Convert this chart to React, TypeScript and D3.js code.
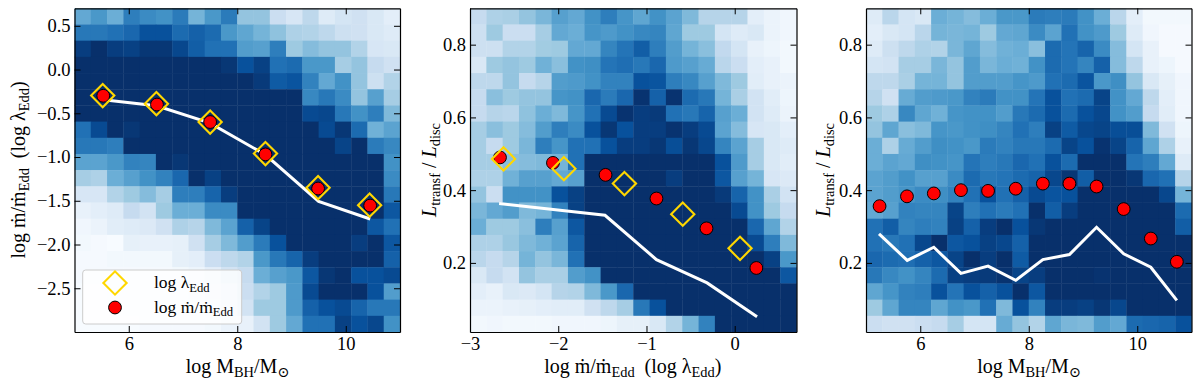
import React, { useEffect, useRef } from "react";
import * as d3 from "d3";

// heatmap cells, top row first, on the 0-8 steps of the Blues colormap
const massAccretionGrid = [
  [4.2, 4.8, 4.0, 5.6, 5.2, 5.0, 5.7, 3.8, 4.8, 5.7, 3.2, 3.2, 1.8, 1.3, 2.2, 1.0, 1.4, 1.6, 1.2, 0.8],
  [5.8, 5.8, 6.0, 6.3, 7.0, 7.0, 6.2, 6.5, 6.2, 4.8, 4.3, 3.8, 3.3, 2.6, 2.5, 2.2, 1.7, 1.6, 1.2, 1.0],
  [7.6, 8.0, 7.6, 7.5, 7.8, 7.8, 7.3, 6.6, 6.0, 6.0, 4.6, 4.5, 5.6, 3.0, 3.5, 3.2, 3.2, 2.5, 1.3, 1.2],
  [8.0, 8.0, 8.0, 8.0, 8.0, 8.0, 8.0, 8.0, 8.0, 7.8, 7.0, 7.5, 6.0, 6.2, 4.8, 4.8, 2.8, 3.2, 2.0, 1.6],
  [8.0, 8.0, 8.0, 8.0, 8.0, 8.0, 8.0, 8.0, 8.0, 8.0, 8.0, 7.7, 6.7, 6.9, 5.5, 4.2, 5.0, 3.2, 1.7, 2.5],
  [8.0, 8.0, 8.0, 8.0, 8.0, 8.0, 8.0, 8.0, 8.0, 8.0, 8.0, 8.0, 8.0, 8.0, 5.3, 5.8, 5.2, 3.2, 4.5, 2.8],
  [8.0, 8.0, 8.0, 8.0, 8.0, 8.0, 8.0, 8.0, 8.0, 8.0, 8.0, 8.0, 8.0, 8.0, 7.2, 7.3, 5.8, 5.0, 5.6, 3.6],
  [6.0, 7.2, 8.0, 7.8, 8.0, 8.0, 8.0, 8.0, 8.0, 8.0, 8.0, 8.0, 8.0, 8.0, 8.0, 7.2, 7.8, 6.2, 3.9, 4.4],
  [5.8, 5.8, 5.6, 8.0, 8.0, 8.0, 8.0, 8.0, 8.0, 8.0, 8.0, 8.0, 8.0, 8.0, 8.0, 8.0, 7.4, 8.0, 5.7, 5.3],
  [4.4, 4.4, 4.8, 5.5, 5.4, 8.0, 7.8, 8.0, 8.0, 8.0, 8.0, 8.0, 8.0, 8.0, 8.0, 8.0, 8.0, 8.0, 8.0, 5.0],
  [2.8, 2.6, 4.0, 4.5, 5.0, 5.5, 6.3, 8.0, 7.5, 8.0, 8.0, 8.0, 8.0, 8.0, 8.0, 8.0, 8.0, 8.0, 8.0, 5.2],
  [1.3, 1.3, 2.5, 3.0, 3.5, 2.8, 5.6, 5.6, 6.4, 7.6, 8.0, 8.0, 8.0, 8.0, 8.0, 8.0, 8.0, 8.0, 8.0, 5.8],
  [0.6, 0.8, 1.0, 2.0, 1.5, 3.0, 4.0, 4.0, 5.2, 5.2, 8.0, 8.0, 8.0, 8.0, 8.0, 8.0, 8.0, 8.0, 8.0, 6.8],
  [0.3, 0.5, 0.9, 1.0, 1.1, 1.6, 2.6, 2.4, 3.6, 4.4, 6.5, 7.4, 8.0, 8.0, 8.0, 8.0, 8.0, 8.0, 6.8, 6.0],
  [0.2, 0.1, 0.0, 0.7, 0.6, 0.6, 0.7, 1.6, 2.8, 3.6, 4.6, 5.7, 7.0, 8.0, 8.0, 8.0, 8.0, 7.6, 8.0, 6.8],
  [0.1, 0.1, 0.2, 0.2, 0.2, 0.2, 0.7, 0.8, 1.8, 2.2, 2.5, 4.8, 5.8, 6.4, 7.6, 8.0, 8.0, 8.0, 8.0, 6.5],
  [0.1, 0.1, 0.1, 0.1, 0.1, 0.1, 0.2, 0.4, 0.8, 1.5, 2.0, 4.0, 4.5, 4.8, 6.8, 7.8, 8.0, 7.0, 7.0, 7.2],
  [0.0, 0.0, 0.1, 0.1, 0.1, 0.1, 0.2, 0.3, 0.6, 1.0, 1.8, 2.5, 3.0, 4.7, 7.2, 8.0, 8.0, 8.0, 7.0, 4.6],
  [0.0, 0.0, 0.0, 0.1, 0.1, 0.1, 0.1, 0.2, 0.4, 0.8, 1.5, 3.0, 3.0, 4.7, 6.5, 7.0, 7.2, 6.4, 5.8, 5.8],
  [0.0, 0.0, 0.0, 0.0, 0.1, 0.1, 0.1, 0.1, 0.2, 0.5, 0.6, 1.5, 3.0, 4.2, 6.0, 6.0, 7.5, 7.0, 7.3, 5.0],
];

const accretionTransferGrid = [
  [2.0, 2.6, 2.7, 3.2, 3.7, 4.5, 4.2, 5.0, 5.6, 4.9, 4.3, 5.0, 4.4, 3.6, 2.4, 2.4, 2.4, 0.8, 0.5, 0.3],
  [1.7, 3.0, 1.8, 1.8, 2.8, 4.2, 4.0, 4.9, 4.7, 5.0, 5.3, 5.4, 4.3, 3.0, 3.0, 1.4, 1.0, 1.2, 0.5, 0.3],
  [1.7, 1.7, 2.5, 2.5, 2.9, 3.0, 4.2, 4.2, 5.4, 5.9, 6.6, 5.6, 4.6, 3.8, 3.4, 2.1, 1.4, 0.6, 0.4, 0.2],
  [1.2, 3.0, 3.2, 3.0, 3.9, 3.4, 5.0, 5.1, 5.9, 6.1, 5.8, 6.3, 4.7, 4.5, 4.1, 2.3, 1.8, 0.8, 0.6, 0.2],
  [2.2, 2.2, 3.2, 2.0, 2.4, 4.6, 4.7, 5.0, 5.5, 5.5, 7.0, 6.9, 5.6, 5.3, 4.5, 3.6, 3.0, 0.9, 0.6, 0.5],
  [2.0, 3.4, 3.0, 3.2, 3.2, 4.9, 5.0, 6.3, 5.7, 6.3, 7.9, 6.5, 7.9, 6.2, 5.8, 3.8, 2.7, 1.5, 0.9, 0.4],
  [2.0, 2.4, 2.3, 3.3, 4.0, 3.6, 4.9, 6.0, 7.2, 7.9, 7.6, 7.7, 6.0, 5.8, 6.4, 4.5, 4.0, 1.5, 1.0, 0.5],
  [2.8, 3.4, 3.0, 3.5, 4.6, 5.6, 5.2, 7.0, 7.8, 7.0, 7.6, 7.6, 7.9, 7.6, 7.2, 4.4, 3.5, 1.3, 1.2, 0.8],
  [2.8, 2.0, 3.0, 3.7, 5.6, 4.9, 6.0, 6.0, 7.0, 7.6, 7.6, 7.8, 7.1, 7.8, 7.3, 5.4, 4.4, 2.8, 1.2, 1.0],
  [2.8, 2.8, 3.4, 3.5, 3.6, 3.8, 6.0, 8.0, 8.0, 8.0, 8.0, 8.0, 8.0, 8.0, 8.0, 7.0, 4.7, 2.8, 1.2, 0.9],
  [2.6, 2.6, 3.9, 4.5, 4.5, 4.2, 4.5, 8.0, 8.0, 8.0, 8.0, 8.0, 7.6, 8.0, 8.0, 6.8, 4.5, 3.8, 1.3, 1.1],
  [3.2, 1.8, 5.0, 5.0, 5.0, 7.0, 7.5, 8.0, 8.0, 8.0, 8.0, 8.0, 8.0, 8.0, 8.0, 7.7, 6.4, 5.0, 2.7, 1.5],
  [3.7, 4.2, 4.6, 3.6, 3.8, 5.5, 7.5, 8.0, 8.0, 8.0, 8.0, 8.0, 8.0, 8.0, 8.0, 8.0, 7.2, 5.0, 3.0, 2.0],
  [4.0, 3.0, 3.0, 3.4, 5.6, 4.5, 6.8, 8.0, 8.0, 8.0, 8.0, 8.0, 8.0, 8.0, 8.0, 8.0, 8.0, 6.3, 4.3, 2.5],
  [2.6, 2.6, 3.1, 3.6, 3.9, 4.4, 6.4, 8.0, 8.0, 8.0, 8.0, 8.0, 8.0, 8.0, 8.0, 8.0, 8.0, 7.2, 5.6, 3.6],
  [2.3, 2.0, 2.4, 3.8, 3.2, 3.7, 6.0, 8.0, 8.0, 8.0, 8.0, 8.0, 8.0, 8.0, 8.0, 8.0, 8.0, 8.0, 7.5, 4.8],
  [1.2, 2.0, 1.5, 3.2, 2.7, 2.7, 4.6, 5.0, 8.0, 8.0, 8.0, 8.0, 8.0, 8.0, 8.0, 8.0, 8.0, 8.0, 8.0, 6.8],
  [0.8, 0.6, 1.2, 1.1, 1.4, 2.4, 2.5, 3.6, 4.8, 6.3, 8.0, 8.0, 8.0, 8.0, 8.0, 8.0, 8.0, 8.0, 8.0, 8.0],
  [0.5, 0.5, 0.6, 0.7, 0.8, 0.9, 0.9, 1.6, 2.2, 2.8, 5.8, 7.0, 8.0, 8.0, 8.0, 8.0, 8.0, 8.0, 8.0, 8.0],
  [0.2, 0.3, 0.2, 0.2, 0.2, 0.3, 0.3, 0.3, 0.4, 0.7, 0.7, 1.2, 2.5, 3.8, 5.5, 8.0, 8.0, 8.0, 8.0, 8.0],
];

const massTransferGrid = [
  [1.0, 2.3, 1.4, 1.2, 4.0, 3.8, 3.5, 4.0, 4.8, 4.8, 5.7, 5.6, 5.7, 5.0, 4.0, 2.3, 0.8, 0.2, 0.2, 0.2],
  [0.8, 1.2, 1.4, 2.3, 3.8, 3.7, 3.8, 3.0, 4.2, 4.3, 5.2, 4.4, 6.0, 5.0, 4.7, 3.0, 1.0, 0.3, 0.1, 0.1],
  [1.0, 1.7, 2.2, 2.6, 2.5, 3.7, 4.3, 3.5, 3.9, 4.0, 3.4, 6.2, 5.9, 6.4, 5.2, 3.5, 1.4, 0.6, 0.1, 0.1],
  [1.4, 1.5, 2.8, 2.8, 3.7, 3.2, 4.6, 3.7, 4.0, 3.9, 5.0, 6.2, 5.9, 5.4, 6.5, 3.5, 2.2, 0.6, 0.4, 0.1],
  [2.2, 2.2, 2.7, 3.8, 3.8, 3.2, 4.6, 4.6, 4.6, 4.9, 4.7, 6.0, 6.2, 6.9, 4.8, 5.1, 3.2, 1.2, 0.7, 0.3],
  [2.4, 1.6, 4.1, 4.6, 4.7, 4.8, 5.5, 5.7, 5.0, 5.0, 5.9, 7.0, 6.0, 6.2, 7.4, 5.0, 4.2, 2.2, 0.8, 0.3],
  [3.0, 2.6, 5.3, 4.3, 3.9, 4.9, 5.0, 5.0, 4.6, 5.8, 6.2, 7.0, 6.2, 7.0, 7.3, 5.0, 4.6, 2.0, 0.9, 0.3],
  [3.2, 4.3, 3.4, 3.6, 4.9, 4.8, 5.0, 5.1, 5.4, 6.0, 5.6, 7.5, 6.7, 7.3, 7.4, 7.1, 7.1, 3.6, 1.6, 0.4],
  [4.0, 2.6, 4.1, 4.6, 5.1, 5.0, 4.8, 5.7, 5.5, 5.8, 5.8, 6.2, 7.4, 7.0, 7.9, 7.4, 6.4, 4.3, 2.6, 0.6],
  [4.0, 4.4, 4.2, 5.1, 5.0, 4.9, 5.9, 5.6, 5.8, 6.3, 6.0, 7.0, 6.2, 8.0, 8.0, 8.0, 5.9, 5.6, 4.2, 1.0],
  [4.4, 4.6, 5.0, 4.5, 4.5, 5.2, 6.2, 5.8, 5.9, 6.2, 6.4, 7.3, 7.8, 6.6, 8.0, 8.0, 7.8, 6.3, 6.0, 2.4],
  [4.4, 4.6, 4.9, 5.2, 5.1, 5.5, 6.0, 7.0, 6.0, 6.5, 7.2, 6.9, 7.0, 8.0, 8.0, 8.0, 8.0, 8.0, 7.3, 3.8],
  [4.2, 4.5, 5.5, 5.4, 5.4, 7.4, 5.6, 6.0, 5.7, 6.0, 8.0, 6.6, 7.6, 8.0, 8.0, 8.0, 8.0, 8.0, 8.0, 6.2],
  [6.0, 6.6, 5.4, 5.6, 5.5, 7.5, 6.5, 7.6, 8.0, 7.0, 7.8, 8.0, 8.0, 8.0, 8.0, 8.0, 8.0, 8.0, 8.0, 6.6],
  [6.0, 5.8, 6.0, 7.3, 8.0, 6.8, 7.0, 7.5, 7.3, 6.5, 8.0, 8.0, 8.0, 8.0, 8.0, 8.0, 8.0, 8.0, 8.0, 8.0],
  [6.3, 6.2, 6.1, 6.5, 6.8, 7.4, 8.0, 7.6, 8.0, 6.7, 8.0, 8.0, 8.0, 8.0, 8.0, 8.0, 8.0, 8.0, 8.0, 8.0],
  [5.8, 5.3, 5.0, 5.4, 6.2, 7.5, 7.6, 7.7, 7.9, 7.4, 7.6, 8.0, 8.0, 8.0, 7.9, 8.0, 8.0, 8.0, 8.0, 8.0],
  [4.3, 4.9, 5.5, 5.6, 7.0, 5.9, 7.0, 6.5, 7.0, 8.0, 6.8, 8.0, 8.0, 8.0, 8.0, 8.0, 8.0, 8.0, 8.0, 8.0],
  [3.0, 4.3, 5.4, 5.4, 4.3, 5.0, 4.8, 6.0, 3.6, 7.0, 5.5, 7.6, 7.6, 7.5, 7.8, 7.3, 8.0, 8.0, 8.0, 8.0],
  [1.8, 1.6, 1.6, 1.8, 2.0, 2.8, 1.4, 1.4, 4.1, 3.2, 2.5, 4.3, 3.7, 3.6, 4.6, 4.2, 6.2, 6.3, 6.4, 7.0],
];

// panel 1: accretion / Eddington ratio against black hole mass
const massLine = [[5.53, -0.346], [6.51, -0.415], [7.49, -0.61], [8.52, -0.974], [9.5, -1.507], [10.45, -1.708]];
const massLambda = [[5.52, -0.297], [6.51, -0.39], [7.5, -0.6], [8.52, -0.96], [9.49, -1.35], [10.44, -1.55]];
const massMdot = [[5.53, -0.3], [6.52, -0.4], [7.5, -0.6], [8.52, -0.97], [9.49, -1.36], [10.45, -1.555]];

// panel 2: transfer fraction against accretion rate
const accretionLine = [[-2.67, 0.363], [-1.47, 0.331], [-0.887, 0.209], [-0.313, 0.145], [0.253, 0.052]];
const accretionLambda = [[-2.62, 0.486], [-1.936, 0.459], [-1.25, 0.418], [-0.589, 0.334], [0.06, 0.24]];
const accretionMdot = [[-2.66, 0.49], [-2.06, 0.475], [-1.464, 0.442], [-0.887, 0.377], [-0.32, 0.295], [0.245, 0.186]];

// panel 3: transfer fraction against black hole mass
const transferLine = [[5.24, 0.28], [5.76, 0.207], [6.25, 0.243], [6.75, 0.171], [7.25, 0.191], [7.76, 0.152], [8.26, 0.209], [8.75, 0.223], [9.25, 0.298], [9.75, 0.225], [10.25, 0.188], [10.73, 0.097]];
const transferMdot = [[5.25, 0.356], [5.755, 0.383], [6.25, 0.391], [6.75, 0.4], [7.25, 0.398], [7.76, 0.404], [8.26, 0.418], [8.75, 0.418], [9.25, 0.41], [9.75, 0.348], [10.25, 0.267], [10.73, 0.203]];

const massTicks = [6, 8, 10];
const lambdaTicks = [-2.5, -2, -1.5, -1, -0.5, 0, 0.5];
const accretionTicks = [-3, -2, -1, 0];
const fractionTicks = [0.2, 0.4, 0.6, 0.8];

const blues = ["#f7fbff", "#deebf7", "#c6dbef", "#9ecae1", "#6baed6", "#4292c6", "#2171b5", "#08519c", "#08306b"];
const serif = "'Liberation Serif', 'DejaVu Serif', serif";

type Run = [string, ("i" | "sub")?];

const massLabel: Run[] = [["log M"], ["BH", "sub"], ["/M"], ["⊙", "sub"]];
const mdotLabel: Run[] = [["log ṁ/ṁ"], ["Edd", "sub"], ["  (log λ"], ["Edd", "sub"], [")"]];
const fractionLabel: Run[] = [["L", "i"], ["transf", "sub"], [" / "], ["L", "i"], ["disc", "sub"]];
const lambdaEddLabel: Run[] = [["log λ"], ["Edd", "sub"]];
const mdotEddLabel: Run[] = [["log ṁ/ṁ"], ["Edd", "sub"]];

const colour = d3.scaleLinear<string>().domain(blues.map((_, i) => i)).range(blues);

function writeRuns(text: any, runs: Run[], size: number) {
  let lowered = false;
  runs.forEach(([str, kind]) => {
    const span = text.append("tspan").attr("xml:space", "preserve").text(str);
    const sub = kind === "sub";
    span.attr("font-size", sub ? size * 0.72 : size);
    if (kind === "i") span.attr("font-style", "italic");
    if (sub !== lowered) span.attr("dy", sub ? size * 0.2 : -size * 0.2);
    lowered = sub;
  });
}

function drawDiamonds(g: any, pts: number[][], x: any, y: any) {
  g.selectAll(null)
    .data(pts)
    .join("path")
    .attr("d", d3.symbol(d3.symbolSquare, 270)())
    .attr("transform", (d: number[]) => `translate(${x(d[0])},${y(d[1])}) rotate(45)`)
    .attr("fill", "none")
    .attr("stroke", "#ffd700")
    .attr("stroke-width", 2.1);
}

function drawCircles(g: any, pts: number[][], x: any, y: any) {
  g.selectAll(null)
    .data(pts)
    .join("circle")
    .attr("cx", (d: number[]) => x(d[0]))
    .attr("cy", (d: number[]) => y(d[1]))
    .attr("r", 6.4)
    .attr("fill", "#ff0000")
    .attr("stroke", "#000")
    .attr("stroke-width", 1);
}

function drawPanel(svg: any, p: any) {
  const x = d3.scaleLinear().domain(p.xDomain).range([p.left, p.right]);
  const y = d3.scaleLinear().domain(p.yDomain).range([332, 8.3]);
  const g = svg.append("g");

  // heatmap, one rect per cell
  const nRows = p.grid.length;
  const nCols = p.grid[0].length;
  const xEdge = d3.scaleLinear().domain([0, nCols]).range(p.xDomain);
  const yEdge = d3.scaleLinear().domain([0, nRows]).range([p.yDomain[1], p.yDomain[0]]);
  p.grid.forEach((row: number[], r: number) => {
    g.selectAll(null)
      .data(row)
      .join("rect")
      .attr("x", (_: number, c: number) => x(xEdge(c)))
      .attr("y", y(yEdge(r)))
      .attr("width", (_: number, c: number) => x(xEdge(c + 1)) - x(xEdge(c)) + 0.4)
      .attr("height", y(yEdge(r + 1)) - y(yEdge(r)) + 0.4)
      .attr("fill", (v: number) => colour(v));
  });

  // median line
  const line = d3.line().x((d: any) => x(d[0])).y((d: any) => y(d[1]));
  g.append("path")
    .datum(p.line)
    .attr("d", line)
    .attr("fill", "none")
    .attr("stroke", "#fff")
    .attr("stroke-width", 3);

  drawCircles(g, p.circles, x, y);
  if (p.diamonds) drawDiamonds(g, p.diamonds, x, y);

  // frame, ticks point inwards on all four sides
  const axes = [
    { axis: d3.axisBottom(x).tickValues(p.xTicks).tickFormat(p.xFormat), at: `translate(0,332)`, labelled: true },
    { axis: d3.axisTop(x).tickValues(p.xTicks), at: `translate(0,8.3)`, labelled: false },
    { axis: d3.axisLeft(y).tickValues(p.yTicks).tickFormat(p.yFormat), at: `translate(${p.left},0)`, labelled: true },
    { axis: d3.axisRight(y).tickValues(p.yTicks), at: `translate(${p.right},0)`, labelled: false },
  ];
  axes.forEach(({ axis, at, labelled }, i) => {
    const a = g.append("g")
      .attr("transform", at)
      .call(axis.tickSizeInner(-6).tickSizeOuter(0).tickPadding(i === 0 ? 5 : 4));
    a.selectAll("path").attr("stroke-width", 1.2).attr("stroke", "#000");
    a.selectAll("line").attr("stroke-width", 1).attr("stroke", "#000");
    if (labelled) {
      a.selectAll("text").attr("font-family", serif).attr("font-size", 18.5).attr("fill", "#000");
    } else {
      a.selectAll("text").remove();
    }
  });

  const xText = g.append("text")
    .attr("x", p.xLabelAt)
    .attr("y", 372.5)
    .attr("text-anchor", "middle")
    .attr("font-family", serif)
    .attr("fill", "#000");
  writeRuns(xText, p.xLabel, 20);

  const yText = g.append("text")
    .attr("transform", `translate(${p.yLabelX},170) rotate(-90)`)
    .attr("text-anchor", "middle")
    .attr("font-family", serif)
    .attr("fill", "#000");
  writeRuns(yText, p.yLabel, 20);

  return { x, y, g };
}

const App = () => {
  const svgRef = useRef<SVGSVGElement>(null);

  useEffect(() => {
    const svg = d3.select(svgRef.current);
    svg.selectAll("*").remove();

    const oneDecimal = (d: any) => d3.format(".1f")(d).replace("-", "−");
    const whole = (d: any) => d3.format("d")(d).replace("-", "−");

    drawPanel(svg, {
      grid: massAccretionGrid,
      xDomain: [5, 11], yDomain: [-3, 0.7], left: 74.5, right: 400,
      xTicks: massTicks, yTicks: lambdaTicks, xFormat: whole, yFormat: oneDecimal,
      line: massLine, circles: massMdot, diamonds: massLambda,
      xLabel: massLabel, yLabel: mdotLabel, xLabelAt: 237.5, yLabelX: 25,
    });
    drawPanel(svg, {
      grid: accretionTransferGrid,
      xDomain: [-3, 0.7], yDomain: [0.01, 0.9], left: 470, right: 796.5,
      xTicks: accretionTicks, yTicks: fractionTicks, xFormat: whole, yFormat: oneDecimal,
      line: accretionLine, circles: accretionMdot, diamonds: accretionLambda,
      xLabel: mdotLabel, yLabel: fractionLabel, xLabelAt: 632.8, yLabelX: 436,
    });
    drawPanel(svg, {
      grid: massTransferGrid,
      xDomain: [5, 11], yDomain: [0.01, 0.9], left: 866, right: 1191.5,
      xTicks: massTicks, yTicks: fractionTicks, xFormat: whole, yFormat: oneDecimal,
      line: transferLine, circles: transferMdot,
      xLabel: massLabel, yLabel: fractionLabel, xLabelAt: 1029, yLabelX: 830,
    });

    // legend of the first panel
    const legend = svg.append("g");
    legend.append("rect")
      .attr("x", 82.7).attr("y", 270).attr("width", 159).attr("height", 54)
      .attr("rx", 3)
      .attr("fill", "#fff").attr("fill-opacity", 0.8)
      .attr("stroke", "#ccc").attr("stroke-width", 1);
    const keyX = d3.scaleLinear().domain([0, 1]).range([115, 115]);
    const keyY = d3.scaleLinear().domain([0, 1]).range([283, 307.5]);
    drawDiamonds(legend, [[0, 0]], keyX, keyY);
    drawCircles(legend, [[0, 1]], keyX, keyY);
    const entries = [lambdaEddLabel, mdotEddLabel];
    entries.forEach((runs, i) => {
      const t = legend.append("text")
        .attr("x", 154)
        .attr("y", keyY(i) + 5)
        .attr("font-family", serif)
        .attr("fill", "#000");
      writeRuns(t, runs, 17.5);
    });
  }, []);

  return (
    <svg
      ref={svgRef}
      width={1200}
      height={380}
      style={{ position: "absolute", left: 0, top: 0, background: "#fff" }}
    />
  );
};

export default App;
